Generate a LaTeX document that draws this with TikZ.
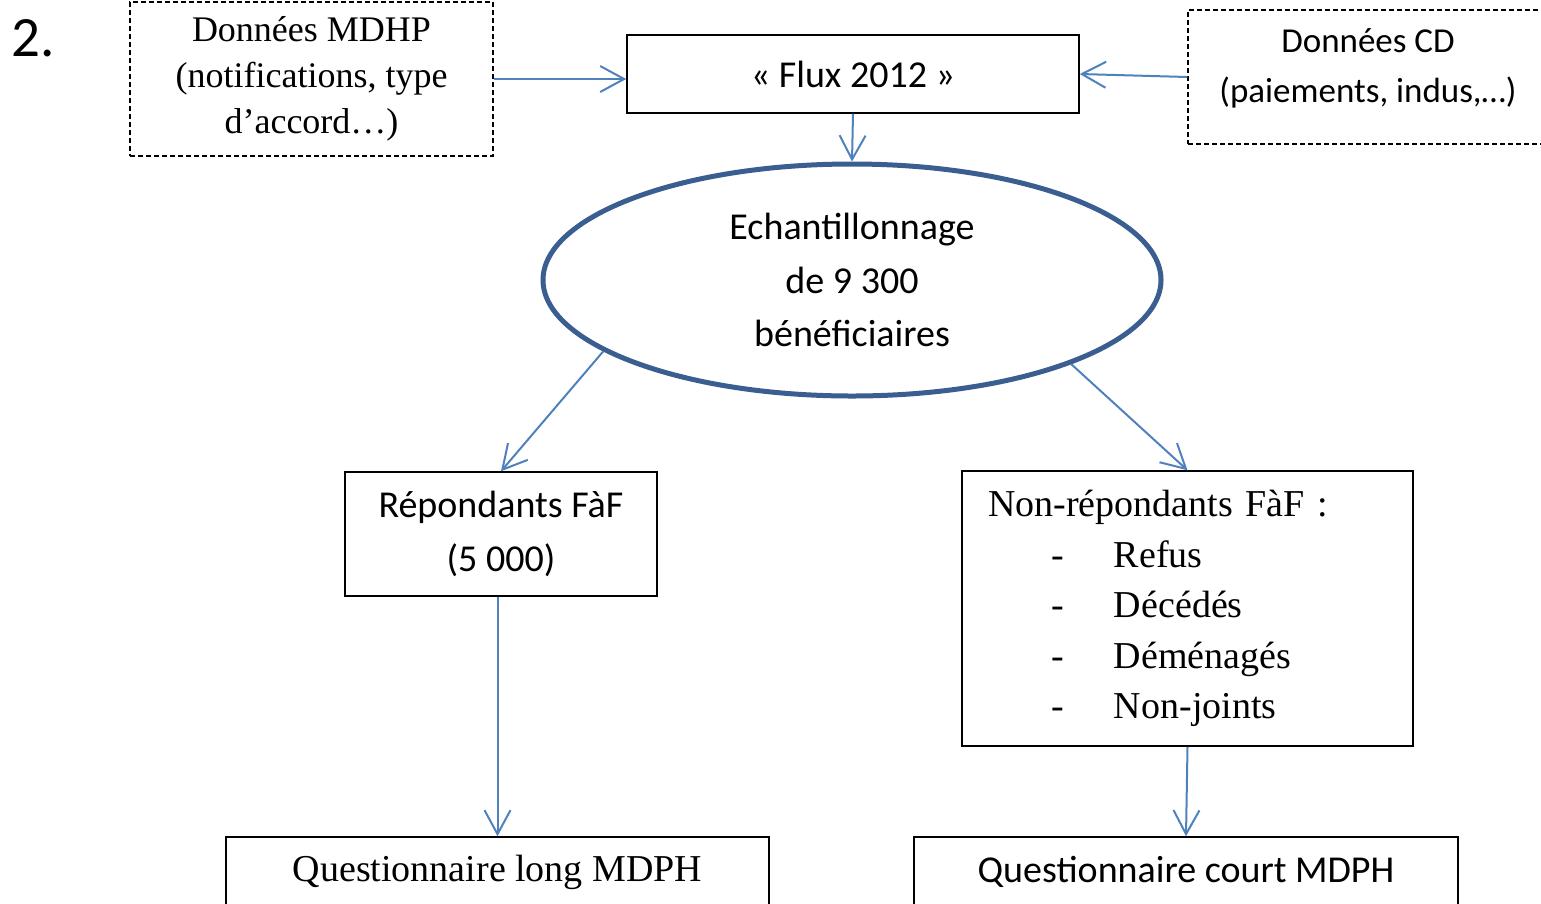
\documentclass[tikz,border=0pt]{standalone}
\usepackage{fontspec}
\setmainfont{Liberation Serif}
\setsansfont{Carlito}
\usetikzlibrary{arrows.meta,shapes.geometric}
\definecolor{arrowblue}{HTML}{4F81BD}
\definecolor{ringblue}{HTML}{3B5E91}
\newcommand{\nritem}[1]{\makebox[126pt][l]{\hspace*{63pt}-}#1}

\begin{document}
\begin{tikzpicture}[x=1pt, y=-1pt,
	box/.style={draw=black, line width=1.5pt, inner sep=0pt},
	dbox/.style={box, dash pattern=on 5pt off 3pt},
	flow/.style={draw=arrowblue, line width=2pt, -{Straight Barb[length=24pt, width=26pt]}},
	serif/.style={font=\fontsize{38}{50.5}\selectfont\rmfamily},
	sans/.style={font=\fontsize{38}{53.5}\selectfont\sffamily}]

			\useasboundingbox (0,0) rectangle (1541,903);

			% Number of the figure
			\node[inner sep=0pt, font=\fontsize{57}{60}\selectfont\sffamily] (num) at (33,38) {2.};

			% Sources of the data
			\node[dbox, align=center, minimum width=363pt, minimum height=154pt,
				font=\fontsize{36}{46}\selectfont\rmfamily] (mdhp) at (311.5,79) {Données MDHP\\(notifications, type\\d’accord…)};
			\node[box, sans, minimum width=452pt, minimum height=78pt] (flux) at (853,74) {« Flux 2012 »};
			\node[dbox, minimum width=360pt, minimum height=134pt] (cd) at (1368,77) {};
			\node[align=center, inner sep=0pt, font=\fontsize{35}{50}\selectfont\sffamily] (cdtext) at (1368,68) {Données CD\\(paiements, indus,…)};

			% Draw the sample
			\node[ellipse, draw=ringblue, line width=5pt, inner sep=0pt, minimum width=618pt, minimum height=232pt,
				sans, align=center] (sample) at (852,280) {Echantillonnage\\de 9 300\\bénéficiaires};

			% The two groups
			\node[box, sans, align=center, minimum width=312pt, minimum height=124pt] (repondants) at (501,534) {Répondants FàF\\(5 000)};
			\node[box, serif, align=left, inner xsep=26pt, text width=399pt, minimum height=275pt] (nonrep) at (1187.5,608.5)
				{Non-répondants FàF :\\\nritem{Refus}\\\nritem{Décédés}\\\nritem{Déménagés}\\\nritem{Non-joints}};

			% The questionnaires
			\node[box, serif, minimum width=543pt, minimum height=70pt] (qlong) at (497.5,872) {Questionnaire long MDPH};
			\node[box, sans, minimum width=544pt, minimum height=70pt] (qcourt) at (1186,872) {Questionnaire court MDPH};

			% Draw the arrows
			\draw[flow] (mdhp.east) -- (mdhp.east -| flux.west);
			\draw[flow] (cd.west) -- (flux.east);
			\draw[flow] (flux.south) -- (sample.north);
			\draw[flow] (sample.196) -- (repondants.north);
			\draw[flow] (sample.339) -- (nonrep.north);
			\draw[flow] (qlong.north |- repondants.south) -- (qlong.north);
			\draw[flow] (nonrep.south) -- (qcourt.north);
		\end{tikzpicture}
\end{document}
